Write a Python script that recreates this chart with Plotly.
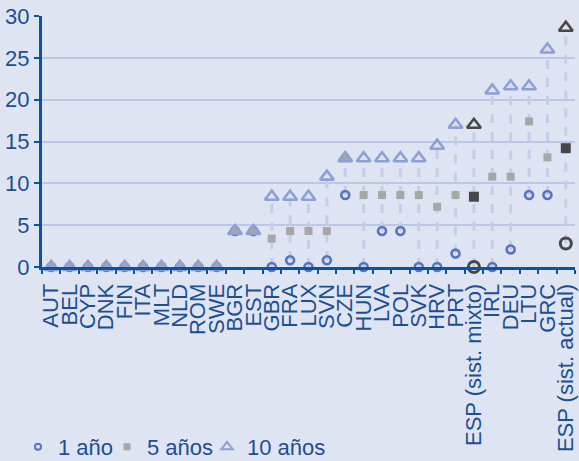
import plotly.graph_objects as go

categories = ["AUT", "BEL", "CYP", "DNK", "FIN", "ITA", "MLT", "NLD", "ROM", "SWE",
              "BGR", "EST", "GBR", "FRA", "LUX", "SVN", "CZE", "HUN", "LVA", "POL",
              "SVK", "HRV", "PRT", "ESP (sist. mixto)", "IRL", "DEU", "LTU", "GRC",
              "ESP (sist. actual)"]
one_year = [0, 0, 0, 0, 0, 0, 0, 0, 0, 0,
            4.3, 4.3, 0, 0.8, 0, 0.8, 8.6, 0, 4.3, 4.3,
            0, 0, 1.6, 0, 0, 2.1, 8.6, 8.6, 2.8]
five_years = [0, 0, 0, 0, 0, 0, 0, 0, 0, 0,
              4.3, 4.3, 3.4, 4.3, 4.3, 4.3, 13.0, 8.6, 8.6, 8.6,
              8.6, 7.2, 8.6, 8.4, 10.8, 10.8, 17.4, 13.1, 14.2]
ten_years = [0, 0, 0, 0, 0, 0, 0, 0, 0, 0,
             4.3, 4.3, 8.4, 8.4, 8.4, 10.8, 13.0, 13.0, 13.0, 13.0,
             13.0, 14.5, 17.0, 17.0, 21.1, 21.6, 21.6, 26.0, 28.6]
highlight = ["ESP (sist. mixto)", "ESP (sist. actual)"]
legend_names = ["1 año", "5 años", "10 años"]
y_ticks = [0, 5, 10, 15, 20, 25, 30]

BG = "#dfe4f3"
GRID = "#bcc6e6"
AXIS = "#0b52a0"
TEXT = "#1c4f92"
C1 = "#5874bb"
C5 = "#a7a7a7"
C10 = "#8ea0d3"
DARK = "#474747"
LINE = "#c6cde8"
W, H = 579, 461

fig = go.Figure()

# dashed range lines (min to max per category)
lx, ly = [], []
for c, a, b, t in zip(categories, one_year, five_years, ten_years):
    lo, hi = min(a, b, t), max(a, b, t)
    if hi > lo:
        lx += [c, c, None]
        ly += [lo, hi, None]
fig.add_trace(go.Scatter(x=lx, y=ly, mode="lines", showlegend=False, hoverinfo="skip",
                         line=dict(color=LINE, width=3, dash="dash"), cliponaxis=False))

norm = [i for i, c in enumerate(categories) if c not in highlight]
hil = [i for i, c in enumerate(categories) if c in highlight]

def sub(vals, idx):
    return [vals[i] for i in idx]

# normal points
fig.add_trace(go.Scatter(x=sub(categories, norm), y=sub(one_year, norm), mode="markers",
                         showlegend=False, cliponaxis=False,
                         marker=dict(symbol="circle-open", size=8, color=C1, line=dict(width=2.6))))
fig.add_trace(go.Scatter(x=sub(categories, norm), y=sub(five_years, norm), mode="markers",
                         showlegend=False, cliponaxis=False,
                         marker=dict(symbol="square", size=8, color=C5, line=dict(width=0))))
fig.add_trace(go.Scatter(x=sub(categories, norm), y=sub(ten_years, norm), mode="markers",
                         showlegend=False, cliponaxis=False,
                         marker=dict(symbol="triangle-up-open", size=12, color=C10, line=dict(width=2.6))))
# highlighted (Spain)
fig.add_trace(go.Scatter(x=sub(categories, hil), y=sub(one_year, hil), mode="markers",
                         showlegend=False, cliponaxis=False,
                         marker=dict(symbol="circle-open", size=11, color=DARK, line=dict(width=3))))
fig.add_trace(go.Scatter(x=sub(categories, hil), y=sub(five_years, hil), mode="markers",
                         showlegend=False, cliponaxis=False,
                         marker=dict(symbol="square", size=10, color=DARK, line=dict(width=0))))
fig.add_trace(go.Scatter(x=sub(categories, hil), y=sub(ten_years, hil), mode="markers",
                         showlegend=False, cliponaxis=False,
                         marker=dict(symbol="triangle-up-open", size=12, color=DARK, line=dict(width=2.6))))

# legend entries, one small legend per entry
legend_ids = ["legend", "legend2", "legend3"]
legend_x_px = [18, 107, 207]
for name, sym, col, sz, lw, lid in zip(legend_names,
                                       ["circle-open", "square", "triangle-up-open"],
                                       [C1, C5, C10], [6, 7, 10], [2, 0, 2], legend_ids):
    fig.add_trace(go.Scatter(x=[None], y=[None], mode="markers", name=name, legend=lid,
                             marker=dict(symbol=sym, size=sz, color=col, line=dict(width=lw))))

legend_style = dict(orientation="h", xref="container", yref="container",
                    y=1 - 447 / H, xanchor="left", yanchor="middle",
                    font=dict(size=22, color=TEXT), itemwidth=30,
                    bgcolor="rgba(0,0,0,0)", borderwidth=0)

fig.update_layout(
    width=W, height=H,
    margin=dict(l=42, r=4, t=16, b=194),
    paper_bgcolor=BG, plot_bgcolor=BG,
    font=dict(family="Liberation Sans, Arial, sans-serif", color=TEXT),
    showlegend=True,
    legend=dict(x=legend_x_px[0] / W, **legend_style),
    legend2=dict(x=legend_x_px[1] / W, **legend_style),
    legend3=dict(x=legend_x_px[2] / W, **legend_style),
)
fig.update_xaxes(type="category", categoryorder="array", categoryarray=categories,
                 tickmode="array", tickvals=categories, ticktext=categories,
                 range=[-0.5, len(categories) - 0.5], automargin=False,
                 showgrid=False, showline=True, linecolor=AXIS, linewidth=3,
                 ticks="outside", tickson="boundaries", ticklen=4, tickwidth=2, tickcolor=AXIS,
                 ticklabelstandoff=5,
                 tickangle=-90, tickfont=dict(size=22, color=TEXT), zeroline=False)
fig.update_yaxes(range=[0, 30], tickmode="array", tickvals=y_ticks, automargin=False,
                 showgrid=True, gridcolor=GRID, gridwidth=1.5,
                 showline=True, linecolor=AXIS, linewidth=3,
                 ticks="outside", ticklen=5, tickwidth=2, tickcolor=AXIS,
                 tickfont=dict(size=22, color=TEXT), zeroline=False)

fig.write_html("out.html", config={"displayModeBar": False},
               post_script="document.body.style.margin='0';")
